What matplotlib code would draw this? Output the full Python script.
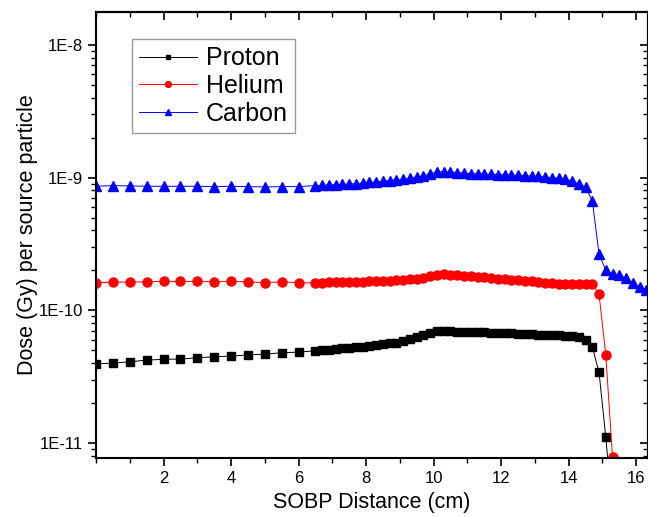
import matplotlib
matplotlib.use("Agg")
import matplotlib.pyplot as plt
from matplotlib.ticker import LogLocator, MultipleLocator, NullFormatter, FixedLocator

plt.rcParams['font.family'] = ['Liberation Sans', 'DejaVu Sans']

x_sparse = [0.0, 0.5, 1.0, 1.5, 2.0, 2.5, 3.0, 3.5, 4.0, 4.5, 5.0, 5.5, 6.0]
x_dense = [6.5, 6.7, 6.9, 7.1, 7.3, 7.5, 7.7, 7.9, 8.1, 8.3, 8.5, 8.7, 8.9,
           9.1, 9.3, 9.5, 9.7, 9.9, 10.1, 10.3, 10.5, 10.7, 10.9, 11.1, 11.3,
           11.5, 11.7, 11.9, 12.1, 12.3, 12.5, 12.7, 12.9, 13.1, 13.3, 13.5,
           13.7, 13.9, 14.1, 14.3, 14.5, 14.7, 14.9, 15.1, 15.3, 15.5, 15.7,
           15.9, 16.1, 16.3]

proton_sparse = [3.94e-11, 4.0e-11, 4.09e-11, 4.21e-11, 4.27e-11, 4.29e-11, 4.38e-11,
                 4.46e-11, 4.52e-11, 4.60e-11, 4.67e-11, 4.78e-11, 4.84e-11]
proton_dense = [4.95e-11, 5.0e-11, 5.05e-11, 5.1e-11, 5.15e-11, 5.2e-11, 5.27e-11, 5.33e-11,
                5.4e-11, 5.48e-11, 5.55e-11, 5.62e-11, 5.7e-11, 5.85e-11, 6.05e-11, 6.3e-11,
                6.55e-11, 6.75e-11, 6.95e-11, 7.0e-11, 6.95e-11, 6.9e-11, 6.85e-11, 6.85e-11,
                6.8e-11, 6.8e-11, 6.75e-11, 6.75e-11, 6.7e-11, 6.7e-11, 6.65e-11, 6.6e-11,
                6.6e-11, 6.55e-11, 6.55e-11, 6.5e-11, 6.5e-11, 6.45e-11, 6.4e-11, 6.3e-11,
                6.0e-11, 5.3e-11, 3.4e-11, 1.1e-11, 3.0e-12]

helium_sparse = [1.61e-10, 1.63e-10, 1.63e-10, 1.64e-10, 1.65e-10, 1.65e-10, 1.65e-10,
                 1.64e-10, 1.65e-10, 1.64e-10, 1.61e-10, 1.64e-10, 1.61e-10]
helium_dense = [1.61e-10, 1.61e-10, 1.62e-10, 1.62e-10, 1.63e-10, 1.63e-10, 1.64e-10, 1.64e-10,
                1.65e-10, 1.66e-10, 1.66e-10, 1.67e-10, 1.68e-10, 1.69e-10, 1.71e-10, 1.73e-10,
                1.76e-10, 1.80e-10, 1.85e-10, 1.87e-10, 1.86e-10, 1.84e-10, 1.82e-10, 1.80e-10,
                1.78e-10, 1.77e-10, 1.75e-10, 1.73e-10, 1.72e-10, 1.70e-10, 1.68e-10, 1.66e-10,
                1.65e-10, 1.63e-10, 1.61e-10, 1.60e-10, 1.59e-10, 1.58e-10, 1.58e-10, 1.58e-10,
                1.58e-10, 1.58e-10, 1.32e-10, 4.6e-11, 7.8e-12]

carbon_sparse = [8.6e-10, 8.7e-10, 8.65e-10, 8.6e-10, 8.6e-10, 8.6e-10, 8.6e-10,
                 8.55e-10, 8.6e-10, 8.55e-10, 8.5e-10, 8.55e-10, 8.55e-10]
carbon_dense = [8.7e-10, 8.75e-10, 8.8e-10, 8.85e-10, 8.9e-10, 8.95e-10, 9.0e-10, 9.1e-10,
                9.2e-10, 9.3e-10, 9.4e-10, 9.5e-10, 9.6e-10, 9.7e-10, 9.9e-10, 1.01e-9,
                1.03e-9, 1.07e-9, 1.10e-9, 1.11e-9, 1.10e-9, 1.09e-9, 1.08e-9, 1.07e-9,
                1.07e-9, 1.06e-9, 1.06e-9, 1.05e-9, 1.05e-9, 1.04e-9, 1.04e-9, 1.03e-9,
                1.03e-9, 1.02e-9, 1.01e-9, 1.00e-9, 0.99e-9, 0.97e-9, 0.94e-9, 0.90e-9,
                0.845e-9, 0.67e-9, 0.265e-9, 0.20e-9, 0.188e-9, 0.183e-9, 0.175e-9,
                0.16e-9, 0.15e-9, 0.143e-9]

x_ticks = [2, 4, 6, 8, 10, 12, 14, 16]
y_ticks = [1e-11, 1e-10, 1e-9, 1e-8]
y_ticklabels = ["1E-11", "1E-10", "1E-9", "1E-8"]

fig = plt.figure(figsize=(6.48, 5.17), dpi=100)
ax = fig.add_axes([96/648, 59/517, 552/648, 446/517])

xp = x_sparse + x_dense[:len(proton_dense)]
xh = x_sparse + x_dense[:len(helium_dense)]
xc = x_sparse + x_dense[:len(carbon_dense)]

ax.plot(xp, proton_sparse + proton_dense, color='black', lw=0.7, marker='s', ms=5.5,
        label='Proton')
ax.plot(xh, helium_sparse + helium_dense, color='#ff0000', lw=0.7, marker='o', ms=6.5,
        label='Helium', mec='#ff0000')
ax.plot(xc, carbon_sparse + carbon_dense, color='#0000ff', lw=0.7, marker='^', ms=6.5,
        label='Carbon')

ax.set_yscale('log')
ax.set_xlim(0, 16.35)
ax.set_ylim(7.7e-12, 1.77e-8)

ax.xaxis.set_major_locator(FixedLocator(x_ticks))
ax.xaxis.set_minor_locator(MultipleLocator(1))
ax.yaxis.set_major_locator(FixedLocator(y_ticks))
ax.set_yticklabels(y_ticklabels)
ax.yaxis.set_minor_locator(LogLocator(base=10, subs=[2, 3, 4, 5, 6, 7, 8, 9], numticks=20))
ax.yaxis.set_minor_formatter(NullFormatter())

ax.tick_params(which='major', direction='out', length=6, width=1.2, labelsize=12)
ax.tick_params(which='minor', direction='out', length=3.5, width=1.0)

for s in ax.spines.values():
    s.set_linewidth(1.5)

# mirrored inward ticks on top and right
top = ax.secondary_xaxis('top')
top.xaxis.set_major_locator(FixedLocator(x_ticks))
top.xaxis.set_minor_locator(MultipleLocator(1))
top.tick_params(which='major', direction='in', length=6, width=1.2, labeltop=False)
top.tick_params(which='minor', direction='in', length=3.5, width=1.0)
top.spines['top'].set_linewidth(1.5)

right = ax.secondary_yaxis('right')
right.yaxis.set_major_locator(FixedLocator(y_ticks))
right.yaxis.set_minor_locator(LogLocator(base=10, subs=[2, 3, 4, 5, 6, 7, 8, 9], numticks=20))
right.yaxis.set_minor_formatter(NullFormatter())
right.tick_params(which='major', direction='in', length=6, width=1.2, labelright=False)
right.tick_params(which='minor', direction='in', length=3.5, width=1.0)
right.spines['right'].set_linewidth(1.5)

ax.set_xlabel('SOBP Distance (cm)', fontsize=15.5, labelpad=4)
ax.set_ylabel('Dose (Gy) per source particle', fontsize=15.5, labelpad=0)

leg = ax.legend(loc='upper left', bbox_to_anchor=(0.065, 0.94), fontsize=18, frameon=True,
                fancybox=False, edgecolor='#808080', handlelength=2.3, handletextpad=0.35,
                borderpad=0.3, labelspacing=0.15, borderaxespad=0, markerscale=0.65)
leg.get_frame().set_linewidth(1.0)
for line in leg.get_lines():
    line.set_linewidth(0.7)

fig.savefig('out.png', dpi=100)
